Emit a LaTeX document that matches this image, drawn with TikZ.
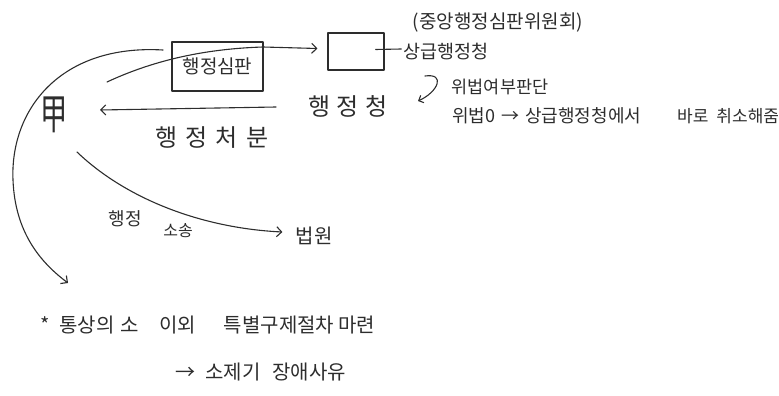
\documentclass[tikz,border=0pt]{standalone}
\usepackage{fontspec}
\setmainfont{Noto Sans CJK KR}
\usetikzlibrary{arrows.meta}
\definecolor{ink}{RGB}{45,45,45}
\newcommand{\myfs}[1]{\fontsize{#1}{#1}\selectfont}
\begin{document}
\begin{tikzpicture}[x=1pt,y=-1pt,
  line/.style={draw=ink,line width=1.1pt,line cap=round,line join=round},
  arr/.style={line,-{Straight Barb[length=5pt,width=10pt,line width=1.1pt]}},
  harr/.style={line,-{Straight Barb[length=4pt,width=8pt,line width=1.1pt]}},
  txt/.style={text=ink,inner sep=0pt,anchor=center}]
\useasboundingbox (0,0) rectangle (779,396);
% nodes
\node[txt,font=\myfs{42},xscale=0.65] (gap) at (54,115) {甲};
\node[line,txt,minimum width=91pt,minimum height=49pt,font=\myfs{19}] (simpan) at (217.5,66.5) {행정심판};
\node[line,minimum width=56pt,minimum height=37pt,inner sep=0pt] (sang) at (356,51.5) {};
\node[txt,font=\myfs{18.5}] (sanglbl) at (446,52) {상급행정청};
\node[txt,font=\myfs{19}] (jung) at (498,23) {(중앙행정심판위원회)};
\node[txt,font=\myfs{24}] (cheong) at (348,106) {행\hspace{6pt}정\hspace{6pt}청};
\node[txt,font=\myfs{24}] (cheobun) at (212,138) {행\hspace{8pt}정\hspace{8pt}처\hspace{8pt}분};
\node[txt,font=\myfs{17.5}] (wibeop) at (500,87) {위법여부판단};
\node[txt,font=\myfs{18},anchor=west] (wibeop2) at (452,116) {위법0\hspace{6pt}→\hspace{6pt}상급행정청에서};
\node[txt,font=\myfs{17},anchor=west] (baro) at (677,116) {바로\hspace{8pt}취소해줌};
\node[txt,font=\myfs{18}] (haengjeong) at (125,219) {행정};
\node[txt,font=\myfs{16}] (sosong) at (178,231) {소송};
\node[txt,font=\myfs{20}] (beobwon) at (314,236) {법원};
\node[txt,font=\myfs{20},anchor=west] (note1) at (40,325) {*\hspace{10pt}통상의\hspace{6pt}소\hspace{20pt}이외\hspace{28pt}특별구제절차\hspace{4pt}마련};
\node[txt,font=\myfs{20},anchor=west] (note2) at (175,372) {→\hspace{10pt}소제기\hspace{12pt}장애사유};
% coordinates
\coordinate (s1) at (107,82);
\coordinate (arcstart) at (163,50);
\coordinate (arcend) at (68,283);
\coordinate (pa) at (276,107);
\coordinate (pb) at (100,110);
\coordinate (cs) at (77,152);
\coordinate (h1) at (425,76);
\coordinate (h2) at (418,101);
% connectors
\draw[arr] (s1) .. controls (150,62) and (200,49) .. (263,47) -- ([xshift=-10pt,yshift=3pt]sang.west);
\draw[arr] (arcstart) .. controls (60,44) and (10,110) .. (13,180) .. controls (15,232) and (40,262) .. (arcend);
\draw[arr] (pa) -- (pb);
\draw[arr] (cs) .. controls (125,198) and (200,228) .. ([xshift=-13pt,yshift=4pt]beobwon.west);
\draw[line] ([xshift=-9pt,yshift=2pt]sang.east) -- ([xshift=-2pt,yshift=3pt]sanglbl.west);
\draw[harr] (h1) .. controls (446,73) and (438,92) .. (h2);
\end{tikzpicture}
\end{document}
